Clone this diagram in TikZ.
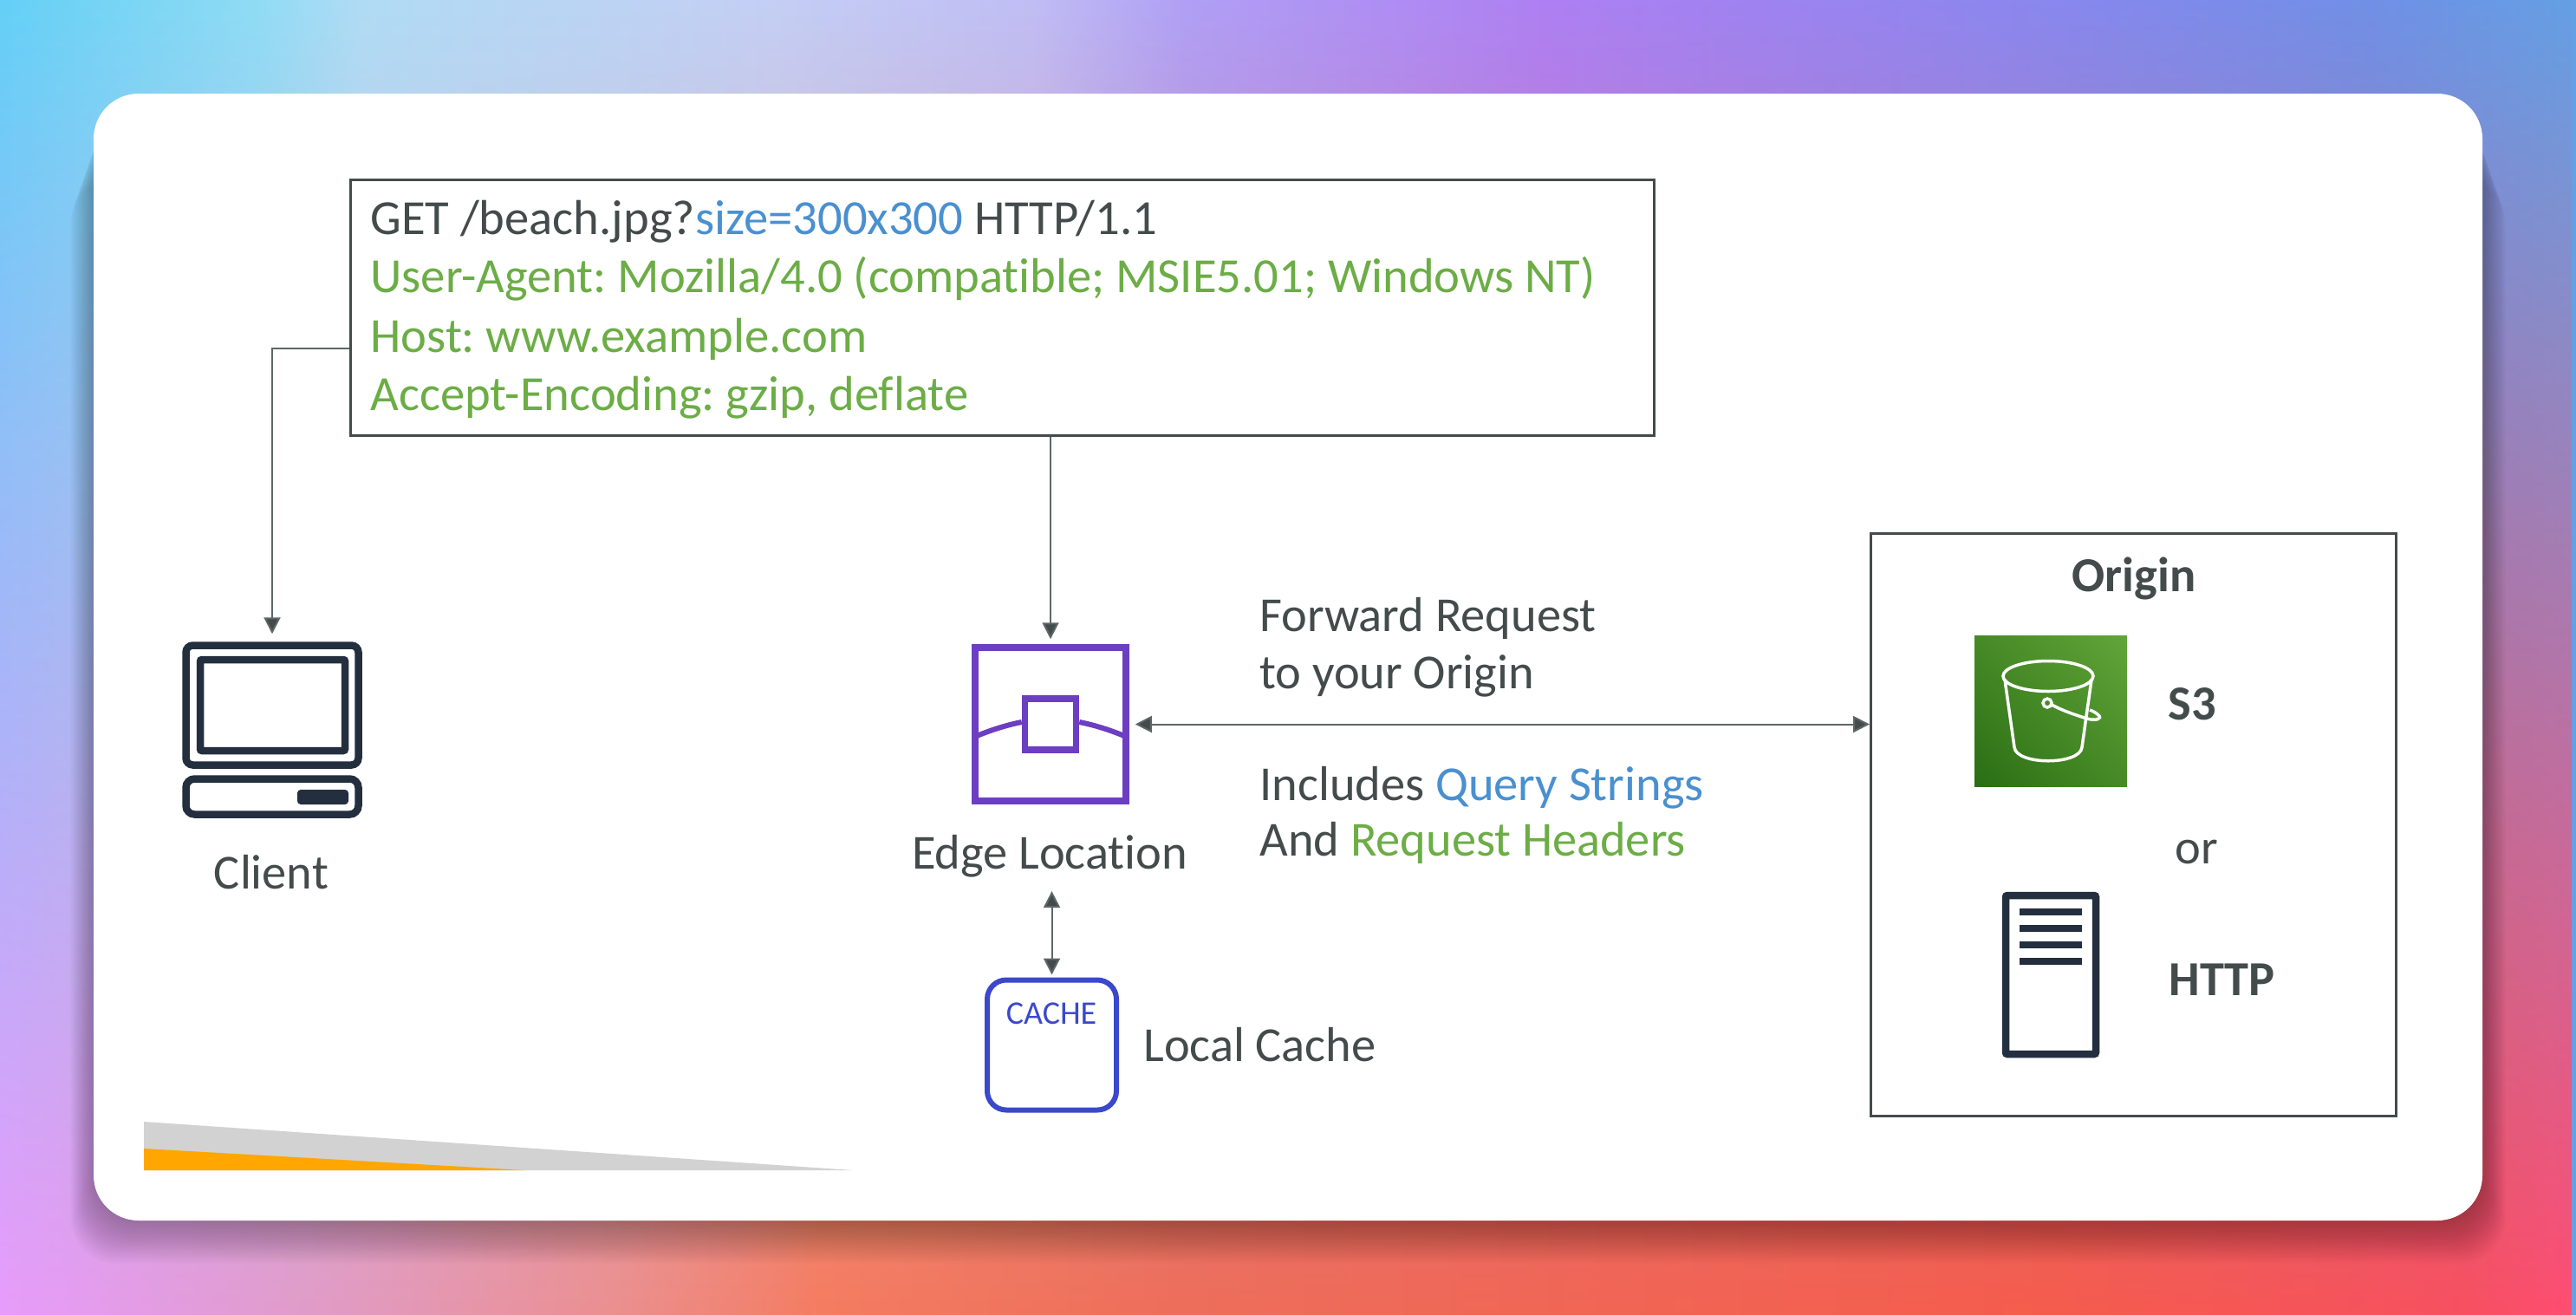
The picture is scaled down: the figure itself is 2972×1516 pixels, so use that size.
\documentclass[tikz,border=0pt]{standalone}
\usepackage{xcolor}
\usepackage{fontspec}
\setmainfont[Ligatures=NoCommon]{Carlito}
\usetikzlibrary{arrows.meta,fadings,shadings}
\definecolor{ink}{RGB}{68, 75, 75}
\definecolor{linegray}{RGB}{95, 102, 102}
\definecolor{querybl}{RGB}{74, 144, 208}
\definecolor{headgrn}{RGB}{108, 173, 70}
\definecolor{navyicon}{RGB}{35, 47, 62}
\definecolor{edgepurple}{RGB}{108, 62, 194}
\definecolor{cacheblue}{RGB}{59, 72, 204}
\definecolor{s3dark}{RGB}{42, 110, 20}
\definecolor{s3light}{RGB}{98, 165, 57}
\pgfdeclarehorizontalshading{pagetop}{100bp}{
	color(0bp)=(rgb,255:red,100;green,208;blue,246);
	color(25bp)=(rgb,255:red,100;green,208;blue,246);
	color(30bp)=(rgb,255:red,144;green,220;blue,245);
	color(32bp)=(rgb,255:red,176;green,220;blue,245);
	color(40bp)=(rgb,255:red,196;green,207;blue,245);
	color(45bp)=(rgb,255:red,192;green,190;blue,245);
	color(48bp)=(rgb,255:red,176;green,160;blue,245);
	color(55bp)=(rgb,255:red,174;green,128;blue,243);
	color(65bp)=(rgb,255:red,136;green,136;blue,238);
	color(71bp)=(rgb,255:red,112;green,144;blue,230);
	color(75bp)=(rgb,255:red,100;green,160;blue,228);
	color(100bp)=(rgb,255:red,100;green,160;blue,228)}
\pgfdeclarehorizontalshading{pagebottom}{100bp}{
	color(0bp)=(rgb,255:red,232;green,156;blue,252);
	color(25bp)=(rgb,255:red,232;green,156;blue,252);
	color(31bp)=(rgb,255:red,225;green,156;blue,200);
	color(37bp)=(rgb,255:red,236;green,143;blue,143);
	color(41bp)=(rgb,255:red,245;green,124;blue,96);
	color(48bp)=(rgb,255:red,238;green,110;blue,90);
	color(65bp)=(rgb,255:red,246;green,92;blue,76);
	color(73bp)=(rgb,255:red,248;green,80;blue,96);
	color(75bp)=(rgb,255:red,255;green,77;blue,114);
	color(100bp)=(rgb,255:red,255;green,77;blue,114)}
\tikzfading[name=fadeup, top color=transparent!100, middle color=transparent!70, bottom color=transparent!0]
\begin{document}
\frenchspacing
\begin{tikzpicture}[x=0.5pt, y=-0.5pt,
	lbl/.style={inner sep=0pt, anchor=base west, text=ink, font=\fontsize{28.2}{33}\selectfont},
	lblmid/.style={lbl, anchor=base},
	boldlbl/.style={lbl, font=\fontsize{28.2}{33}\selectfont\bfseries},
	reqline/.style={lbl, font=\fontsize{28.3}{33}\selectfont},
	link/.style={draw=linegray, line width=1pt, -{Triangle[length=9.5pt, width=9.5pt, fill=ink]}},
	twoway/.style={link, {Triangle[length=9.5pt, width=9.5pt, fill=ink]}-{Triangle[length=9.5pt, width=9.5pt, fill=ink]}},
	framebox/.style={draw=ink, line width=1.5pt, inner sep=0pt},
	navyline/.style={draw=navyicon, line width=4.25pt},
	bucketline/.style={draw=white, line width=1.75pt}]
	\useasboundingbox (0,0) rectangle (2972,1516);
	\shade[shading=pagetop] (0,0) rectangle (2972,1516);
	\shade[shading=pagebottom, path fading=fadeup] (0,0) rectangle (2972,1516);
	\foreach \grow in {2,4,...,38}
		\fill[black, opacity=0.016, rounded corners=26pt] (108-0.7*\grow,130+2*\grow) rectangle (2864+0.7*\grow,1408+1.3*\grow);
	\fill[white, rounded corners=26pt] (108,108) rectangle (2864,1408);
	\fill[gray!35] (166,1294) -- (984,1350) -- (166,1350) -- cycle;
	\fill[orange!70!yellow] (166,1325) -- (605,1350) -- (166,1350) -- cycle;
	\node (reqbox) at (1156,355) [framebox, minimum width=752pt, minimum height=147.5pt] {};
	\node (reqget) at (427,270) [reqline] {GET /beach.jpg?\textcolor{querybl}{size=300x300} HTTP/1.1};
	\node (reqagent) at (427,337) [reqline, text=headgrn] {User-Agent: Mozilla/4.0 (compatible; MSIE5.01; Windows NT)};
	\node (reqhost) at (427,406) [reqline, text=headgrn] {Host: www.example.com};
	\node (reqenc) at (427,473) [reqline, text=headgrn] {Accept-Encoding: gzip, deflate};
	\coordinate (reqtap) at (403,402);
	\node (client) at (314,813.5) [navyline, rounded corners=4pt, minimum width=99.5pt, minimum height=69pt] {};
	\draw[navyline, rounded corners=1pt] (231,761) rectangle (398,866);
	\draw[navyline, rounded corners=5pt] (214.5,898.5) rectangle (413.5,939.5);
	\fill[navyicon, rounded corners=2pt] (343,911) rectangle (402,928);
	\node (clientlabel) at (313,1025) [lblmid] {Client};
	\node (edge) at (1212,835.5) [draw=edgepurple, line width=3.75pt, minimum width=87pt, minimum height=88.5pt] {};
	\node (edgecore) at (1212,835.5) [draw=edgepurple, line width=3.75pt, minimum width=29.5pt, minimum height=29.5pt] {};
	\draw[draw=edgepurple, line width=3pt] (edge.west) ++(2,15) .. controls (1143,842) and (1163,836) .. (edgecore.west |- 0,833);
	\draw[draw=edgepurple, line width=3pt] (edge.east) ++(-2,15) .. controls (1281,842) and (1261,836) .. (edgecore.east |- 0,833);
	\node (edgelabel) at (1211,1002) [lblmid] {Edge Location};
	\node (cache) at (1213.5,1205.5) [draw=cacheblue, line width=3pt, rounded corners=11pt, minimum width=74.5pt, minimum height=75pt] {};
	\node (cachetag) at (1213,1181) [anchor=base, inner sep=0pt, text=cacheblue, font=\fontsize{19}{22}\selectfont] {CACHE};
	\node (cachelabel) at (1319,1224) [lbl] {Local Cache};
	\node (origin) at (2461.5,951.5) [framebox, minimum width=303pt, minimum height=336pt] {};
	\node (originlabel) at (2462,682) [lblmid, font=\fontsize{28.2}{33}\selectfont\bfseries] {Origin};
	\shade[lower left=s3dark, upper right=s3light, lower right=s3light!50!s3dark, upper left=s3light!50!s3dark] (2278,733) rectangle (2454,907);
	\draw[bucketline] (2363,780) ellipse [x radius=26pt, y radius=8.75pt];
	\draw[bucketline] (2313,784) -- (2324,862) .. controls (2326,883) and (2400,883) .. (2402,862) -- (2413,784);
	\draw[bucketline] (2362,811) circle [radius=2.5pt];
	\draw[bucketline] (2367,813) .. controls (2380,820) and (2395,825) .. (2408,829) .. controls (2418,832) and (2426,829) .. (2421,825) .. controls (2418,822) and (2414,820) .. (2411,819);
	\node (s3label) at (2501,830) [boldlbl] {S3};
	\node (orlabel) at (2509,996) [lbl] {or};
	\draw[navyline, rounded corners=1pt] (2314,1033) rectangle (2418,1216);
	\foreach \rowy in {1052,1071,1090,1109}
		\fill[navyicon] (2330,\rowy-4) rectangle (2402,\rowy+4);
	\node (httplabel) at (2502,1148) [boldlbl] {HTTP};
	\node (forwarda) at (1453,728) [lbl] {Forward Request};
	\node (forwardb) at (1453,794) [lbl] {to your Origin};
	\node (includesa) at (1453,923) [lbl] {Includes \textcolor{querybl}{Query Strings}};
	\node (includesb) at (1453,987) [lbl] {And \textcolor{headgrn}{Request Headers}};
	\draw[link, shorten >=4.5pt] (reqtap) -| (client.north);
	\draw[link, shorten >=3pt] (edge.north |- reqbox.south) -- (edge.north);
	\draw[twoway, shorten <=3.5pt] (edge.east) -- (origin.west |- edge.east);
	\draw[twoway, shorten <=8pt, shorten >=1.5pt] (edgelabel.south -| cache.north) -- (cache.north);
\end{tikzpicture}
\end{document}
